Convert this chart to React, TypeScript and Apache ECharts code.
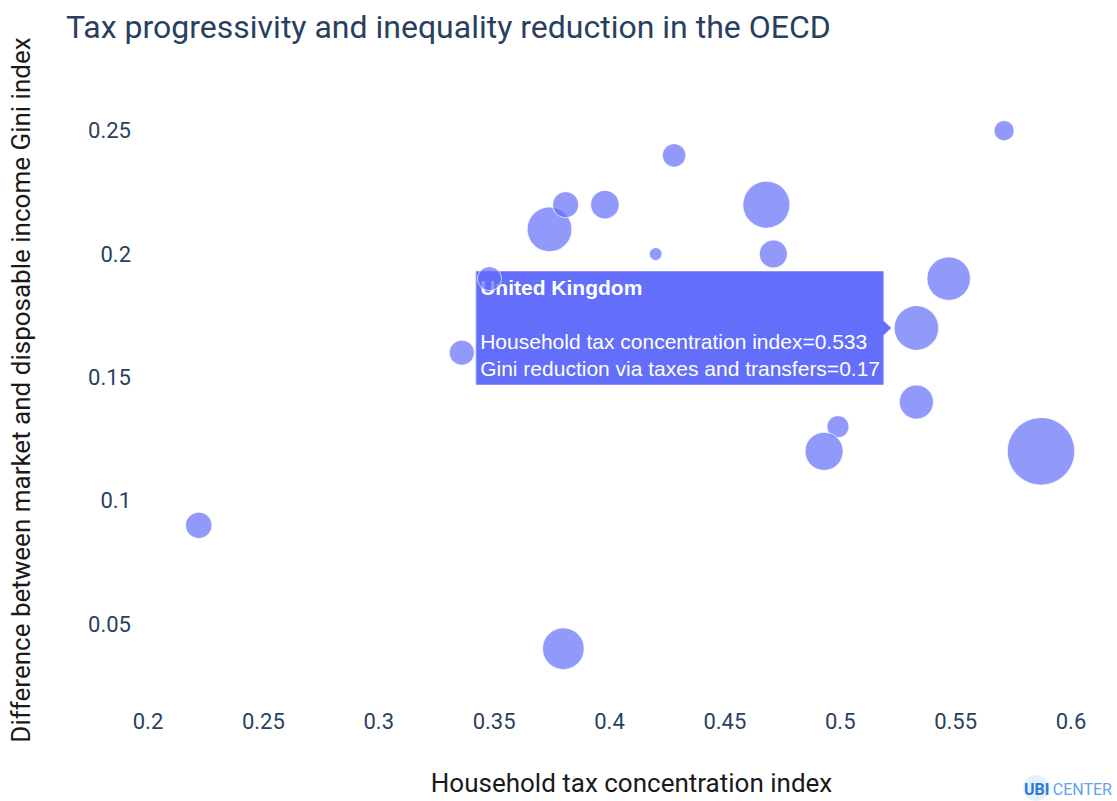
import React, { useEffect, useRef } from "react";
import * as echarts from "echarts";

// Household tax concentration index (x)
const taxConcentration = [
  0.222, 0.38, 0.336, 0.348, 0.374, 0.381, 0.398, 0.42, 0.428,
  0.468, 0.471, 0.547, 0.533, 0.533, 0.499, 0.493, 0.587, 0.571,
];
// Gini reduction via taxes and transfers (y)
const giniReduction = [
  0.09, 0.04, 0.16, 0.19, 0.21, 0.22, 0.22, 0.2, 0.24,
  0.22, 0.2, 0.19, 0.17, 0.14, 0.13, 0.12, 0.12, 0.25,
];
// Bubble size measure (area-proportional)
const bubbleWeight = [
  174, 433, 156, 144, 497, 169, 204, 40, 137,
  552, 196, 471, 493, 289, 121, 361, 1136, 100,
];
const xTicks = [0.2, 0.25, 0.3, 0.35, 0.4, 0.45, 0.5, 0.55, 0.6];
const yTicks = [0.05, 0.1, 0.15, 0.2, 0.25];
const highlightedName = "United Kingdom";
const highlightedIndex = 12;

const TITLE = "Tax progressivity and inequality reduction in the OECD";
const X_TITLE = "Household tax concentration index";
const Y_TITLE = "Difference between market and disposable income Gini index";
const X_LABEL = "Household tax concentration index";
const Y_LABEL = "Gini reduction via taxes and transfers";

const bubbleSize = (w: number) => 2 * Math.sqrt(w);

export default function App() {
  const ref = useRef<HTMLDivElement>(null);

  useEffect(() => {
    if (!ref.current) return;
    const chart = echarts.init(ref.current, undefined, { renderer: "svg" });
    const data = taxConcentration.map((x, i) => [x, giniReduction[i], bubbleWeight[i]]);

    chart.setOption({
      animation: false,
      backgroundColor: "#ffffff",
      title: {
        text: TITLE,
        left: 66,
        top: 11,
        padding: 0,
        textStyle: {
          fontFamily: "Roboto",
          fontSize: 32,
          fontWeight: "normal",
          color: "#2a3f5f",
        },
      },
      grid: { left: 147, right: 46, top: 106, bottom: 98.5 },
      xAxis: {
        type: "value",
        min: xTicks[0],
        max: xTicks[xTicks.length - 1],
        interval: 0.05,
        axisLine: { show: false },
        axisTick: { show: false },
        splitLine: { show: false },
        axisLabel: {
          color: "#2a3f5f",
          fontFamily: "Roboto",
          fontSize: 22,
          margin: 12,
          showMinLabel: true,
          showMaxLabel: true,
          formatter: (v: number) => String(Math.round(v * 100) / 100),
        },
        name: X_TITLE,
        nameLocation: "middle",
        nameGap: 72,
        nameTextStyle: {
          fontFamily: "Roboto",
          fontSize: 26,
          color: "#1a1a1a",
          padding: [0, 0, 0, 44],
        },
      },
      yAxis: {
        type: "value",
        min: 0.02,
        max: 0.26,
        axisLine: { show: false },
        axisTick: { show: false },
        splitLine: { show: false },
        axisLabel: {
          color: "#2a3f5f",
          fontFamily: "Roboto",
          fontSize: 22,
          margin: 17,
          customValues: yTicks,
          formatter: (v: number) => String(Math.round(v * 100) / 100),
        },
        name: Y_TITLE,
        nameLocation: "middle",
        nameGap: 114,
        nameTextStyle: {
          fontFamily: "Roboto",
          fontSize: 26,
          color: "#1a1a1a",
          padding: [0, 0, 0, 24],
        },
      },
      series: [
        {
          type: "scatter",
          data,
          clip: false,
          symbolSize: (v: number[]) => bubbleSize(v[2]),
          itemStyle: {
            color: "#636efa",
            opacity: 0.7,
            borderColor: "#ffffff",
            borderWidth: 1,
          },
          emphasis: { disabled: true },
        },
      ],
    });

    // hover label for the highlighted country
    const hx = taxConcentration[highlightedIndex];
    const hy = giniReduction[highlightedIndex];
    const p = chart.convertToPixel({ seriesIndex: 0 }, [hx, hy]) as number[];
    const r = bubbleSize(bubbleWeight[highlightedIndex]) / 2;
    const boxW = 407;
    const boxH = 113;
    const tip = p[0] - r - 3;
    const boxRight = tip - 8;
    const boxLeft = boxRight - boxW;
    const boxTop = p[1] - boxH / 2;
    const font = "Liberation Sans, Arial, sans-serif";

    chart.setOption({
      graphic: [
        {
          type: "group",
          z: 100,
          children: [
            {
              type: "rect",
              shape: { x: boxLeft, y: boxTop, width: boxW, height: boxH },
              style: { fill: "#636efa", stroke: "#8a92fb", lineWidth: 1 },
            },
            {
              type: "polygon",
              shape: {
                points: [
                  [boxRight - 0.5, p[1] - 8],
                  [tip, p[1]],
                  [boxRight - 0.5, p[1] + 8],
                ],
              },
              style: { fill: "#636efa" },
            },
            {
              type: "text",
              x: boxLeft + 4,
              y: boxTop + 16,
              style: {
                text: highlightedName,
                fill: "#ffffff",
                font: `bold 21px ${font}`,
                verticalAlign: "middle",
              },
            },
            {
              type: "text",
              x: boxLeft + 4,
              y: boxTop + 70,
              style: {
                text: `${X_LABEL}=${hx}`,
                fill: "#ffffff",
                font: `21px ${font}`,
                verticalAlign: "middle",
              },
            },
            {
              type: "text",
              x: boxLeft + 4,
              y: boxTop + 97,
              style: {
                text: `${Y_LABEL}=${hy}`,
                fill: "#ffffff",
                font: `21px ${font}`,
                verticalAlign: "middle",
              },
            },
          ],
        },
        {
          type: "group",
          z: 100,
          children: [
            {
              type: "circle",
              shape: { cx: 1036, cy: 788, r: 13 },
              style: { fill: "#e6f0fc" },
            },
            {
              type: "text",
              x: 1024,
              y: 789,
              style: {
                text: "{a|UBI} {b|CENTER}",
                verticalAlign: "middle",
                rich: {
                  a: { fontFamily: "Roboto", fontSize: 16, fontWeight: "bold", fill: "#2a7ad8", color: "#2a7ad8" },
                  b: { fontFamily: "Roboto", fontSize: 16, fill: "#5fa3ec", color: "#5fa3ec" },
                },
              },
            },
          ],
        },
      ],
    });

    return () => chart.dispose();
  }, []);

  return (
    <div
      ref={ref}
      style={{ position: "absolute", left: 0, top: 0, width: 1117, height: 801 }}
    />
  );
}
